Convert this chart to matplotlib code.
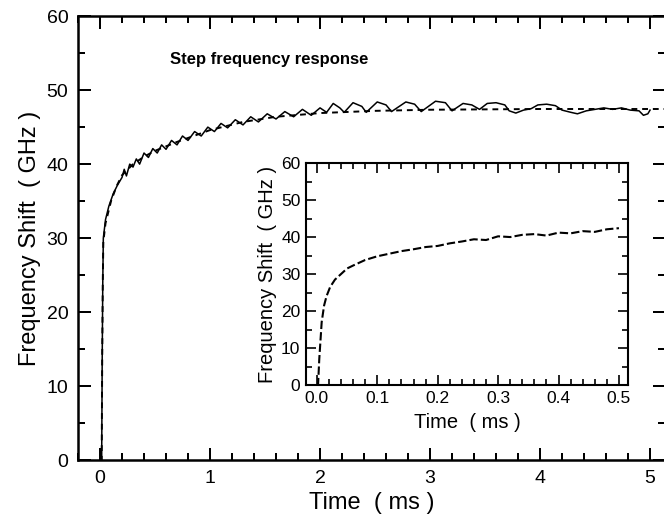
import matplotlib

matplotlib.use("Agg")
import matplotlib.pyplot as plt
from matplotlib.ticker import MultipleLocator

plt.rcParams["font.family"] = ["Liberation Sans", "DejaVu Sans"]

# smooth fit (dashed) in main panel
fit_t = [0.0, 0.015, 0.02, 0.025, 0.03, 0.05, 0.1, 0.15, 0.2, 0.3, 0.4, 0.5, 0.7, 1.0, 1.3,
         1.6, 2.0, 2.5, 3.0, 3.5, 4.0, 4.5, 5.0, 5.15]
fit_f = [0.0, 0.0, 14.0, 24.0, 29.5, 32.0, 35.0, 37.0, 38.5, 40.0, 41.0, 41.8, 43.0, 44.6, 45.7,
         46.4, 46.9, 47.2, 47.35, 47.4, 47.45, 47.45, 47.45, 47.45]

# measured step response (solid, oscillating)
meas_t = [0.0, 0.015, 0.02, 0.025, 0.03, 0.05, 0.08, 0.12, 0.16, 0.2, 0.22, 0.24, 0.27, 0.30,
          0.33, 0.36, 0.40, 0.44, 0.48, 0.52, 0.56, 0.60, 0.65, 0.70, 0.75, 0.80, 0.86, 0.92,
          0.98, 1.04, 1.10, 1.16, 1.23, 1.30, 1.37, 1.44, 1.52, 1.60, 1.68, 1.76, 1.84, 1.92,
          2.0, 2.06, 2.12, 2.18, 2.22, 2.30, 2.38, 2.42, 2.52, 2.60, 2.65, 2.78, 2.86, 2.92,
          3.05, 3.14, 3.2, 3.3, 3.38, 3.45, 3.52, 3.6, 3.68, 3.72, 3.78, 3.85, 3.92, 3.98,
          4.06, 4.14, 4.2, 4.28, 4.34, 4.42, 4.5, 4.58, 4.66, 4.74, 4.82, 4.9, 4.94, 4.98, 5.0]
meas_f = [0.0, 0.0, 14.0, 24.0, 30.0, 32.5, 34.3, 36.0, 37.2, 38.2, 39.3, 38.4, 40.0, 39.6,
          40.7, 40.0, 41.5, 40.9, 42.1, 41.5, 42.6, 42.0, 43.2, 42.6, 43.8, 43.2, 44.4, 43.8,
          45.0, 44.4, 45.5, 44.9, 46.0, 45.3, 46.4, 45.7, 46.8, 46.1, 47.1, 46.4, 47.4, 46.6,
          47.6, 47.0, 48.2, 47.6, 47.0, 48.3, 47.8, 47.0, 48.4, 48.0, 47.1, 48.4, 48.1, 47.1,
          48.5, 48.3, 47.2, 48.2, 48.0, 47.4, 48.2, 48.3, 48.0, 47.2, 46.9, 47.3, 47.5, 48.0,
          48.1, 47.9, 47.3, 47.0, 46.8, 47.2, 47.4, 47.6, 47.4, 47.6, 47.3, 47.2, 46.6, 46.8, 47.3]

# inset: first 0.5 ms
ins_t = [0.0, 0.002, 0.004, 0.008, 0.012, 0.016, 0.022, 0.03, 0.04, 0.05, 0.06, 0.08, 0.1,
         0.12, 0.14, 0.16, 0.18, 0.2, 0.22, 0.24, 0.26, 0.28, 0.3, 0.32, 0.34, 0.36, 0.38,
         0.4, 0.42, 0.44, 0.46, 0.48, 0.5]
ins_f = [0.0, 0.0, 7.0, 17.0, 21.5, 24.0, 26.5, 28.5, 30.0, 31.5, 32.3, 33.8, 34.8,
         35.5, 36.2, 36.7, 37.3, 37.6, 38.3, 38.8, 39.4, 39.2, 40.2, 40.0, 40.6, 40.8, 40.4,
         41.2, 41.0, 41.6, 41.4, 42.1, 42.4]


def style_axes(ax, size, major_len, minor_len, lw, pad):
    for sp in ax.spines.values():
        sp.set_linewidth(lw)
    ax.tick_params(which="both", direction="in", top=True, right=True, width=lw * 0.8,
                   labelsize=size, pad=pad)
    ax.tick_params(which="major", length=major_len)
    ax.tick_params(which="minor", length=minor_len)


fig = plt.figure(figsize=(6.64, 5.21), dpi=100)
ax = fig.add_axes([0.1175, 0.117, 0.884, 0.852])
ax.plot(fit_t, fit_f, color="black", lw=1.4, linestyle=(0, (3, 2.5)))
ax.plot(meas_t, meas_f, color="black", lw=1.1)
ax.set_xlim(-0.2, 5.136)
ax.set_ylim(0, 60)
ax.xaxis.set_major_locator(MultipleLocator(1))
ax.xaxis.set_minor_locator(MultipleLocator(0.2))
ax.yaxis.set_major_locator(MultipleLocator(10))
ax.yaxis.set_minor_locator(MultipleLocator(5))
style_axes(ax, 14, 9, 5, 1.8, 7)
ax.set_xlabel("Time  ( ms )", fontsize=17, labelpad=4)
ax.set_ylabel("Frequency Shift  ( GHz )", fontsize=17, labelpad=4)
ax.text(0.64, 54.2, "Step frequency response", fontsize=12, fontweight="bold",
        ha="left", va="center")

ins = fig.add_axes([0.4608, 0.261, 0.485, 0.426])
ins.plot(ins_t, ins_f, color="black", lw=1.5, linestyle=(0, (4, 1.5)))
ins.set_xlim(-0.018, 0.515)
ins.set_ylim(0, 60)
ins.xaxis.set_major_locator(MultipleLocator(0.1))
ins.xaxis.set_minor_locator(MultipleLocator(0.02))
ins.yaxis.set_major_locator(MultipleLocator(10))
ins.yaxis.set_minor_locator(MultipleLocator(5))
style_axes(ins, 12.5, 7, 4, 1.5, 4)
ins.set_xlabel("Time  ( ms )", fontsize=14.5, labelpad=5)
ins.set_ylabel("Frequency Shift  ( GHz )", fontsize=14.5, labelpad=3)

fig.savefig("out.png", dpi=100)
